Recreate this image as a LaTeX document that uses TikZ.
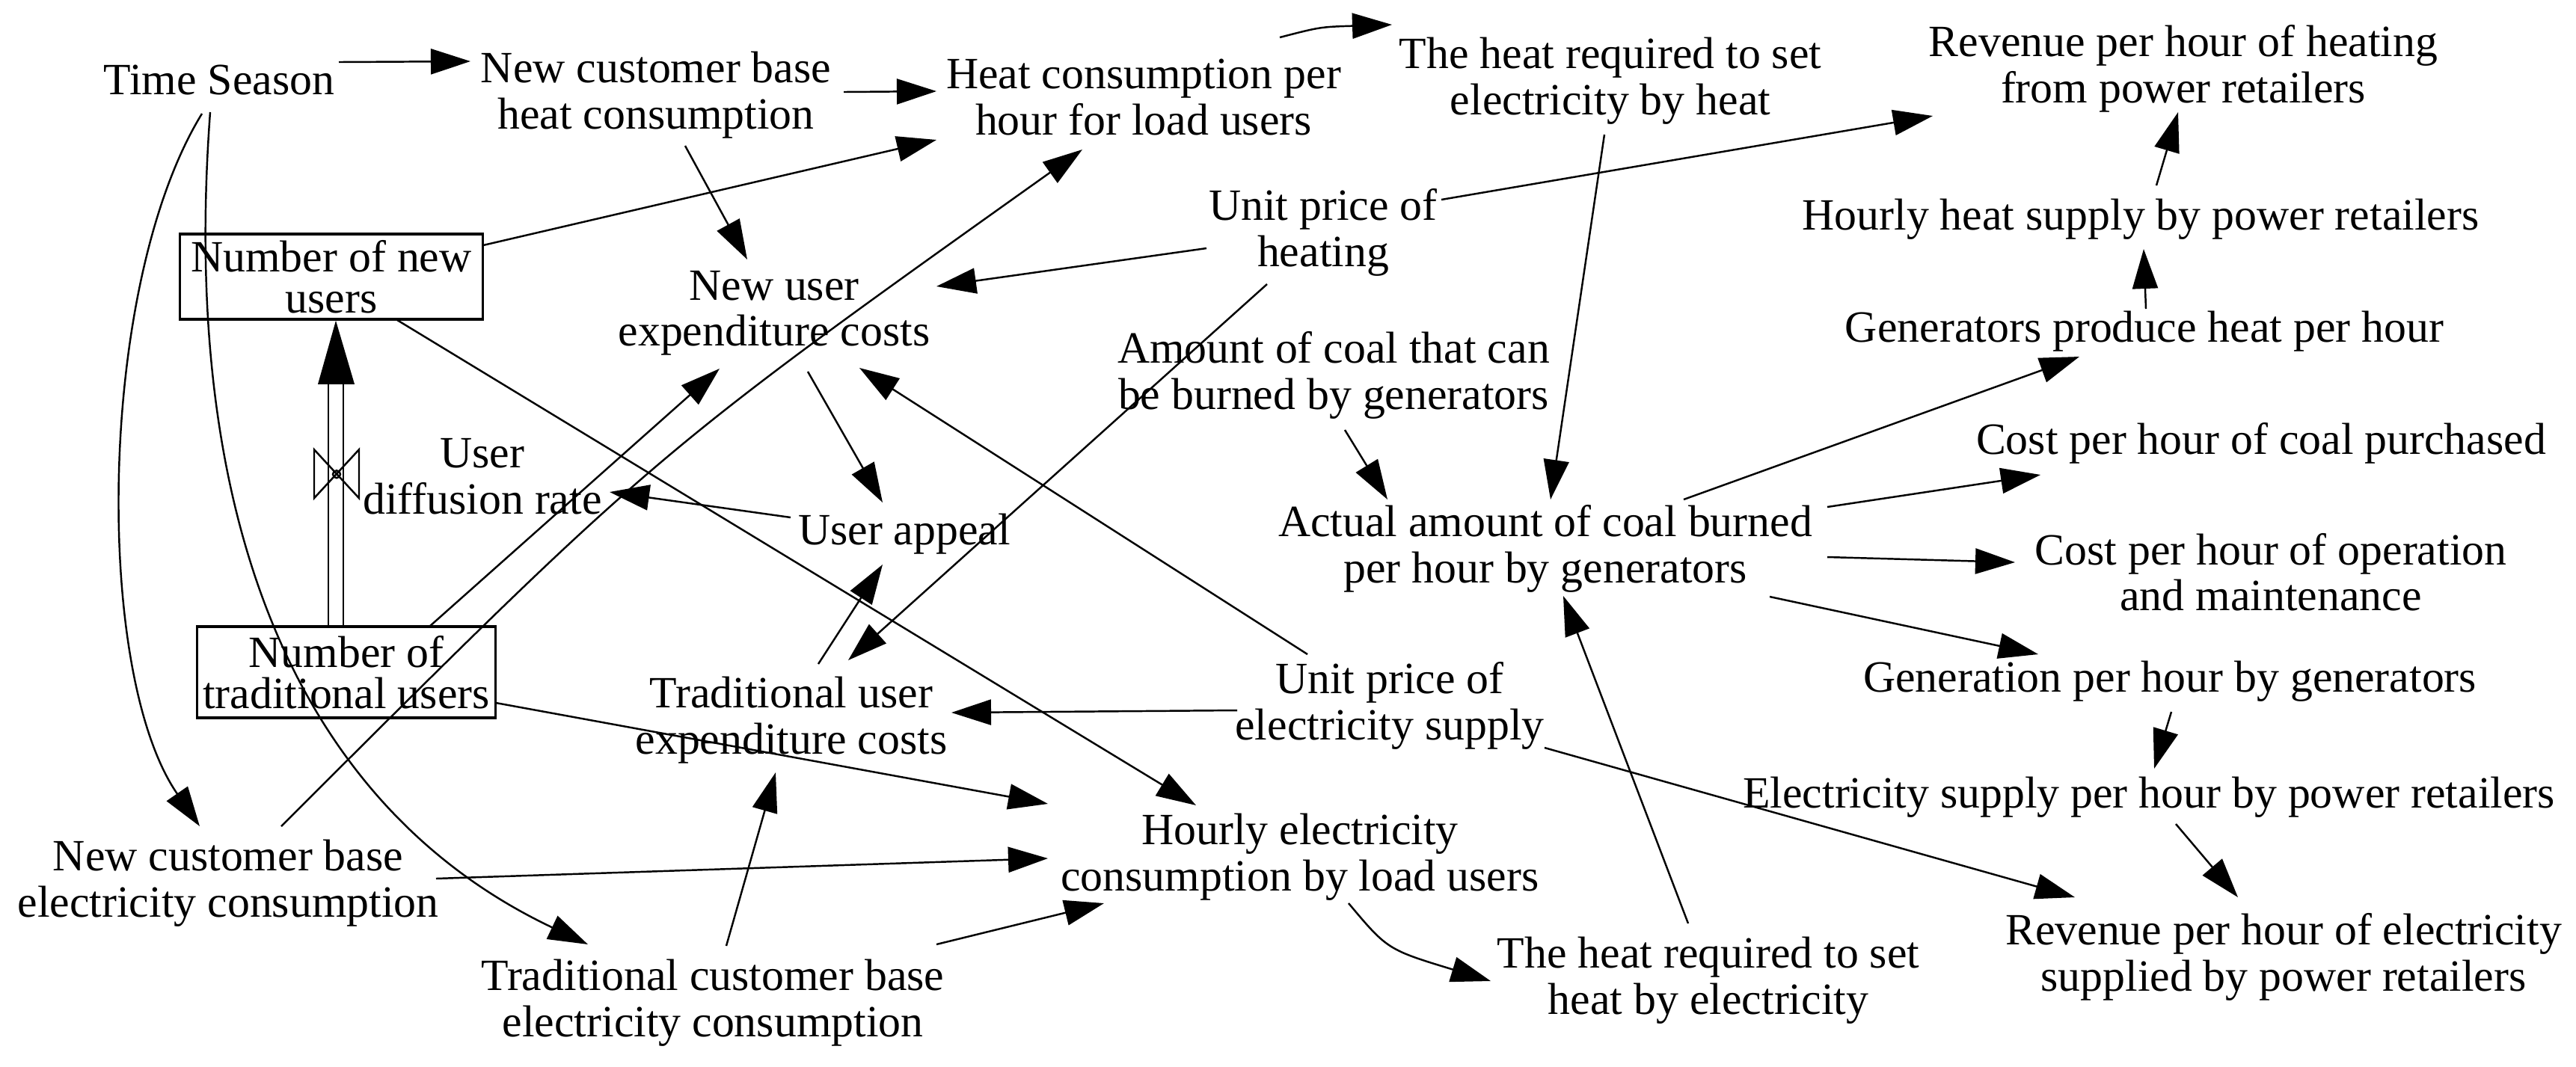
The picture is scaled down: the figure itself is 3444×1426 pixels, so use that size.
\documentclass[tikz,border=0pt]{standalone}
\usepackage{fontspec}
\setmainfont{Liberation Serif}
\usetikzlibrary{arrows.meta,calc}
\newcommand\labfont{\fontsize{17pt}{17.5pt}\selectfont}
\newcommand\boxfont{\fontsize{17pt}{15.5pt}\selectfont}
\tikzset{
  lbl/.style={align=center, inner sep=0pt, font=\labfont},
  stockbox/.style={draw, line width=1pt, align=center, inner sep=0pt, font=\boxfont},
  con/.style={line width=0.7pt, -{Triangle[length=0.53cm,width=0.34cm]}},
  pipe/.style={line width=0.7pt}
}
\begin{document}
\begin{tikzpicture}[x=0.01cm,y=-0.01cm]
\useasboundingbox (0,0) rectangle (3444,1426);
% nodes
\node[lbl] (ts)   at (293,107)  {Time Season};
\node[lbl] (ncbh) at (877,127)  {New customer base\\heat consumption};
\node[lbl] (hc)   at (1529,130) {Heat consumption per\\hour for load users};
\node[lbl] (hreh) at (2153,108) {The heat required to set\\electricity by heat};
\node[lbl] (rh)   at (2919,92)  {Revenue per hour of heating\\from power retailers};
\node[stockbox, minimum width=4.05cm, minimum height=1.14cm] (nnu) at (443,370) {Number of new\\users};
\node[lbl] (uph)  at (1769,311) {Unit price of\\heating};
\node[lbl] (nuec) at (1035,419) {New user\\expenditure costs};
\node[lbl] (acb)  at (1783,502) {Amount of coal that can\\be burned by generators};
\node[lbl] (udr)  at (645,637)  {User\\diffusion rate};
\node[lbl] (ua)   at (1209,714) {User appeal};
\node[lbl] (aacb) at (2066,734) {Actual amount of coal burned\\per hour by generators};
\node[lbl] (gph)  at (2867,443) {Generators produce heat per hour};
\node[lbl] (hhs)  at (2862,293) {Hourly heat supply by power retailers};
\node[lbl] (cpc)  at (3023,593) {Cost per hour of coal purchased};
\node[lbl] (com)  at (3036,765) {Cost per hour of operation\\and maintenance};
\node[lbl] (gen)  at (2901,911) {Generation per hour by generators};
\node[lbl] (esp)  at (2873,1066) {Electricity supply per hour by power retailers};
\node[lbl] (re)   at (3053,1280) {Revenue per hour of electricity\\supplied by power retailers};
\node[lbl] (hrhe) at (2284,1311) {The heat required to set\\heat by electricity};
\node[lbl] (hec)  at (1738,1146) {Hourly electricity\\consumption by load users};
\node[lbl] (upe)  at (1858,944) {Unit price of\\electricity supply};
\node[lbl] (tuec) at (1058,963) {Traditional user\\expenditure costs};
\node[stockbox, minimum width=3.99cm, minimum height=1.22cm] (ntu) at (463,899) {Number of\\traditional users};
\node[lbl] (ncbe) at (305,1181) {New customer base\\electricity consumption};
\node[lbl] (tcbe) at (953,1341) {Traditional customer base\\electricity consumption};
% flow pipe with valve
\draw[pipe] ($(ntu.north)+(-24,0)$) -- ($(ntu.north)+(-24,-326)$);
\draw[pipe] ($(ntu.north)+(-4,0)$) -- ($(ntu.north)+(-4,-326)$);
\fill ($(nnu.south)+(6,0)$) -- ($(nnu.south)+(-18,85)$) -- ($(nnu.south)+(31,85)$) -- cycle;
\coordinate (valve) at ($(ntu.north)+(-13,-202)$);
\draw[pipe] ($(valve)+(-30,-33)$) -- ($(valve)+(-30,32)$) -- ($(valve)+(30,-33)$) -- ($(valve)+(30,32)$) -- cycle;
\draw[pipe] (valve) circle (0.05cm);
% connectors
\draw[con] ($(ts)+(160,-24)$) -- ($(ncbh)+(-248,-45)$);
\draw[con] ($(ts)+(-23,45)$) .. controls ($(ts)+(-163,273)$) and ($(ncbe)+(-180,-281)$) .. ($(ncbe)+(-38,-76)$);
\draw[con] ($(ts)+(-12,43)$) .. controls ($(ts)+(-53,593)$) and ($(tcbe)+(-553,-261)$) .. ($(tcbe)+(-167,-78)$);
\draw[con] ($(ncbh)+(251,-4)$) -- ($(hc)+(-277,-8)$);
\draw[con] ($(ncbh)+(39,68)$) -- ($(nuec)+(-36,-72)$);
\draw[con] ($(nnu)+(203,-42)$) -- ($(hc)+(-277,57)$);
\draw[con] ($(hc)+(182,-80)$) .. controls ($(hc)+(236,-94)$) .. ($(hreh)+(-292,-75)$);
\draw[con] ($(uph)+(158,-44)$) -- ($(rh)+(-335,63)$);
\draw[con] ($(uph)+(-156,21)$) -- ($(nuec)+(217,-36)$);
\draw[con] ($(uph)+(-75,69)$) -- ($(tuec)+(76,-80)$);
\draw[con] ($(hreh)+(-8,72)$) -- ($(aacb)+(7,-66)$);
\draw[con] ($(acb)+(15,73)$) -- ($(aacb)+(-211,-66)$);
\draw[con] ($(aacb)+(185,-66)$) -- ($(gph)+(-87,34)$);
\draw[con] ($(aacb)+(377,-56)$) -- ($(cpc)+(-295,42)$);
\draw[con] ($(aacb)+(377,11)$) -- ($(com)+(-342,-13)$);
\draw[con] ($(aacb)+(300,64)$) -- ($(gen)+(-176,-36)$);
\draw[con] ($(gph)+(2,-30)$) -- ($(hhs)+(4,40)$);
\draw[con] ($(hhs)+(21,-45)$) -- ($(rh)+(-7,58)$);
\draw[con] ($(gen)+(2,41)$) -- ($(esp)+(7,-38)$);
\draw[con] ($(esp)+(36,36)$) -- ($(re)+(-61,-80)$);
\draw[con] ($(upe)+(207,56)$) -- ($(re)+(-279,-80)$);
\draw[con] ($(upe)+(-204,6)$) -- ($(tuec)+(214,-10)$);
\draw[con] ($(upe)+(-110,-69)$) -- ($(nuec)+(114,73)$);
\draw[con] ($(hrhe)+(-27,-76)$) -- ($(aacb)+(24,63)$);
\draw[con] ($(hec)+(65,62)$) .. controls ($(hec)+(117,124)$) .. ($(hrhe)+(-291,1)$);
\draw[con] ($(nuec)+(45,78)$) -- ($(ua)+(-29,-42)$);
\draw[con] ($(tuec)+(36,-75)$) -- ($(ua)+(-29,41)$);
\draw[con] ($(ua)+(-152,-22)$) -- ($(udr)+(170,21)$);
\draw[con] ($(nnu)+(88,58)$) -- ($(hec)+(-139,-69)$);
\draw[con] ($(ntu)+(111,-61)$) -- ($(nuec)+(-73,74)$);
\draw[con] ($(ncbe)+(71,-76)$) .. controls ($(ncbe)+(569,-573)$) .. ($(hc)+(-82,70)$);
\draw[con] ($(ncbe)+(278,-6)$) -- ($(hec)+(-337,2)$);
\draw[con] ($(tcbe)+(18,-76)$) -- ($(tuec)+(-21,70)$);
\draw[con] ($(tcbe)+(299,-78)$) -- ($(hec)+(-262,62)$);
\draw[con] ($(ntu)+(200,41)$) -- ($(hec)+(-337,-71)$);
\end{tikzpicture}
\end{document}
